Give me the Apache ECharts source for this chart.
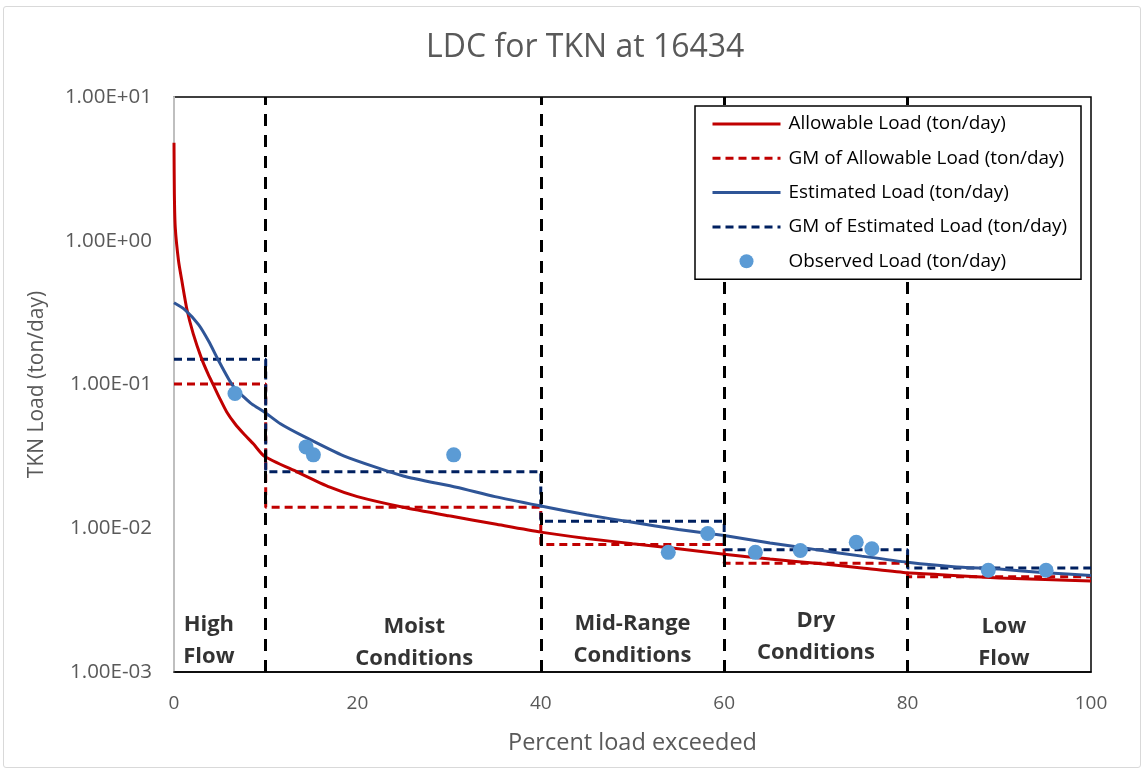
<!DOCTYPE html>
<html>
<head>
<meta charset="utf-8">
<script src="https://cdn.jsdelivr.net/npm/echarts@6/dist/echarts.min.js"></script>
<style>
  html, body { margin: 0; padding: 0; background: #fff; }
  #frame { position: absolute; left: 3px; top: 6px; width: 1138px; height: 762px; border: 1.5px solid #d9d9d9; border-radius: 3px; box-sizing: border-box; }
  #chart { position: absolute; left: 0; top: 0; width: 1147px; height: 772px; }
</style>
</head>
<body>
<div id="frame"></div>
<div id="chart"></div>
<script>
// ---- Data ----
const title = 'LDC for TKN at 16434';

const allowX   = [0, 0.04, 0.14, 0.5, 0.87, 1.4, 2.1, 3.0, 3.7, 4.3, 5.0, 5.75, 6.65, 7.6, 8.65, 9.85, 13.4, 17, 20, 25, 30, 35, 40, 45, 50, 55, 60, 65, 70, 75, 80, 85, 90, 95, 100];
const allowY   = [4.8, 2.1, 1.23, 0.72, 0.52, 0.335, 0.225, 0.152, 0.119, 0.099, 0.0798, 0.0644, 0.0533, 0.0454, 0.0387, 0.0317, 0.0247, 0.0193, 0.0166, 0.014, 0.0122, 0.0107, 0.0094, 0.0085, 0.0078, 0.0072, 0.0066, 0.0061, 0.0057, 0.0053, 0.0049, 0.0047, 0.0045, 0.0044, 0.0043];

const estX     = [0, 1.2, 2.7, 3.8, 4.9, 6.0, 6.65, 7.6, 8.5, 9.85, 11.6, 14.1, 18.5, 25, 30.8, 35, 40, 45, 50, 55, 60, 65, 70, 75, 80, 85, 90, 95, 100];
const estY     = [0.37, 0.331, 0.26, 0.199, 0.145, 0.108, 0.094, 0.082, 0.073, 0.0644, 0.0533, 0.0437, 0.0319, 0.0231, 0.0193, 0.0166, 0.0143, 0.0124, 0.011, 0.0098, 0.0089, 0.0079, 0.0071, 0.0064, 0.0058, 0.0054, 0.0052, 0.0049, 0.0047];

// flow regime boundaries and geometric means
const regimeBounds = [0, 10, 40, 60, 80, 100];
const gmAllow      = [0.101, 0.0140, 0.0077, 0.0057, 0.0046];
const gmEst        = [0.150, 0.0247, 0.0112, 0.0071, 0.0053];

const obsX = [6.65, 14.4, 15.2, 30.5, 53.9, 58.2, 63.4, 68.3, 74.4, 76.1, 88.8, 95.1];
const obsY = [0.0865, 0.0368, 0.0324, 0.0324, 0.0068, 0.0092, 0.0068, 0.0070, 0.0080, 0.0072, 0.0051, 0.0051];

const regimeNames  = ['High\nFlow', 'Moist\nConditions', 'Mid-Range\nConditions', 'Dry\nConditions', 'Low\nFlow'];
const regimeLabelX = [3.8, 26.2, 50, 70, 90.5];
const regimeLabelY = [0.00165, 0.0016, 0.00168, 0.00175, 0.0016];

const xTicks = [0, 20, 40, 60, 80, 100];
const yTickLabels = ['1.00E-03', '1.00E-02', '1.00E-01', '1.00E+00', '1.00E+01'];

const legendNames = ['Allowable Load (ton/day)', 'GM of Allowable Load (ton/day)', 'Estimated Load (ton/day)', 'GM of Estimated Load (ton/day)', 'Observed Load (ton/day)'];

// ---- Build series data ----
const zip = (xs, ys) => xs.map((x, i) => [x, ys[i]]);
function stepData(bounds, vals) {
  const d = [];
  vals.forEach((v, i) => { d.push([bounds[i], v]); d.push([bounds[i + 1], v]); });
  return d;
}

const FONT = '"Open Sans", Lato, sans-serif';
const GREY = '#595959';
const RED = '#C00000', BLUE = '#2F5597', NAVY = '#002060', DOT = '#5B9BD5';

const legendStyles = [
  { lineStyle: { color: RED, width: 3, type: 'solid' } },
  { lineStyle: { color: RED, width: 3, type: [8, 5] } },
  { lineStyle: { color: BLUE, width: 3, type: 'solid' } },
  { lineStyle: { color: NAVY, width: 3, type: [8, 5] } }
];

const chart = echarts.init(document.getElementById('chart'), null, { renderer: 'canvas' });

const option = {
  backgroundColor: 'transparent',
  animation: false,
  title: {
    text: title, left: 421, top: 27,
    textStyle: { fontFamily: FONT, fontSize: 32, fontWeight: 'normal', color: GREY }
  },
  grid: { left: 174, right: 56, top: 97, bottom: 100, show: true, borderColor: '#000', borderWidth: 1.5, backgroundColor: 'transparent' },
  legend: {
    orient: 'vertical', left: 695, top: 106, z: 20,
    data: legendNames.map((n, i) => i < 4
      ? { name: n, itemStyle: { opacity: 0 }, lineStyle: legendStyles[i].lineStyle }
      : { name: n, itemStyle: { color: DOT } }),
    itemWidth: 68, itemHeight: 14, itemGap: 14.3,
    padding: [8, 14, 8, 16],
    borderColor: '#000', borderWidth: 1.5, backgroundColor: '#fff',
    textStyle: { fontFamily: FONT, fontSize: 18.9, lineHeight: 20, color: '#000', padding: [0, 0, 0, 3] }
  },
  xAxis: {
    type: 'value', min: 0, max: 100, interval: 20,
    axisLine: { show: true, onZero: false, lineStyle: { color: '#000', width: 1.5 } },
    axisTick: { show: false }, splitLine: { show: false },
    axisLabel: { color: GREY, fontFamily: FONT, fontSize: 19, margin: 22,
      formatter: v => xTicks.includes(v) ? String(v) : '' },
    name: 'Percent load exceeded', nameLocation: 'middle', nameGap: 59,
    nameTextStyle: { color: GREY, fontFamily: FONT, fontSize: 23.5 }
  },
  yAxis: {
    type: 'log', logBase: 10, min: 0.001, max: 10,
    axisLine: { show: true, lineStyle: { color: '#bfbfbf', width: 2 } },
    axisTick: { show: false }, splitLine: { show: false },
    axisLabel: { color: GREY, fontFamily: FONT, fontSize: 20.5, margin: 22,
      formatter: v => yTickLabels[Math.round(Math.log10(v)) + 3] },
    name: 'TKN Load (ton/day)', nameLocation: 'middle', nameGap: 126, nameRotate: 90,
    nameTextStyle: { color: GREY, fontFamily: FONT, fontSize: 21 }
  },
  series: [
    {
      name: legendNames[0], type: 'line', data: zip(allowX, allowY),
      symbol: 'none', smooth: 0.2, lineStyle: { color: RED, width: 3 }, itemStyle: { color: RED }, z: 3
    },
    {
      name: legendNames[1], type: 'line', data: stepData(regimeBounds, gmAllow),
      symbol: 'none', lineStyle: { color: RED, width: 3, type: [8, 5] }, itemStyle: { color: RED }, z: 2
    },
    {
      name: legendNames[2], type: 'line', data: zip(estX, estY),
      symbol: 'none', smooth: 0.2, lineStyle: { color: BLUE, width: 3 }, itemStyle: { color: BLUE }, z: 3
    },
    {
      name: legendNames[3], type: 'line', data: stepData(regimeBounds, gmEst),
      symbol: 'none', lineStyle: { color: NAVY, width: 3, type: [8, 5] }, itemStyle: { color: NAVY }, z: 2
    },
    {
      name: legendNames[4], type: 'scatter', data: zip(obsX, obsY),
      symbol: 'circle', symbolSize: 15, itemStyle: { color: DOT, opacity: 1 }, z: 5
    },
    {
      name: 'regimes', type: 'scatter', silent: true, symbolSize: 1,
      itemStyle: { color: 'rgba(0,0,0,0)' },
      data: regimeLabelX.map((x, i) => ({ value: [x, regimeLabelY[i]], label: { formatter: regimeNames[i] } })),
      label: { show: true, position: 'inside', color: '#000', fontFamily: FONT, fontWeight: 'bold', fontSize: 22, lineHeight: 32, align: 'center', verticalAlign: 'middle' },
      z: 6
    },
    {
      name: 'bounds', type: 'line', data: [], symbol: 'none', silent: true, z: 4,
      markLine: {
        silent: true, symbol: ['none', 'none'], label: { show: false },
        lineStyle: { color: '#000', width: 3, type: [12, 9] },
        data: regimeBounds.slice(1, 5).map(b => ({ xAxis: b }))
      }
    }
  ]
};
chart.setOption(option);
</script>
</body>
</html>
